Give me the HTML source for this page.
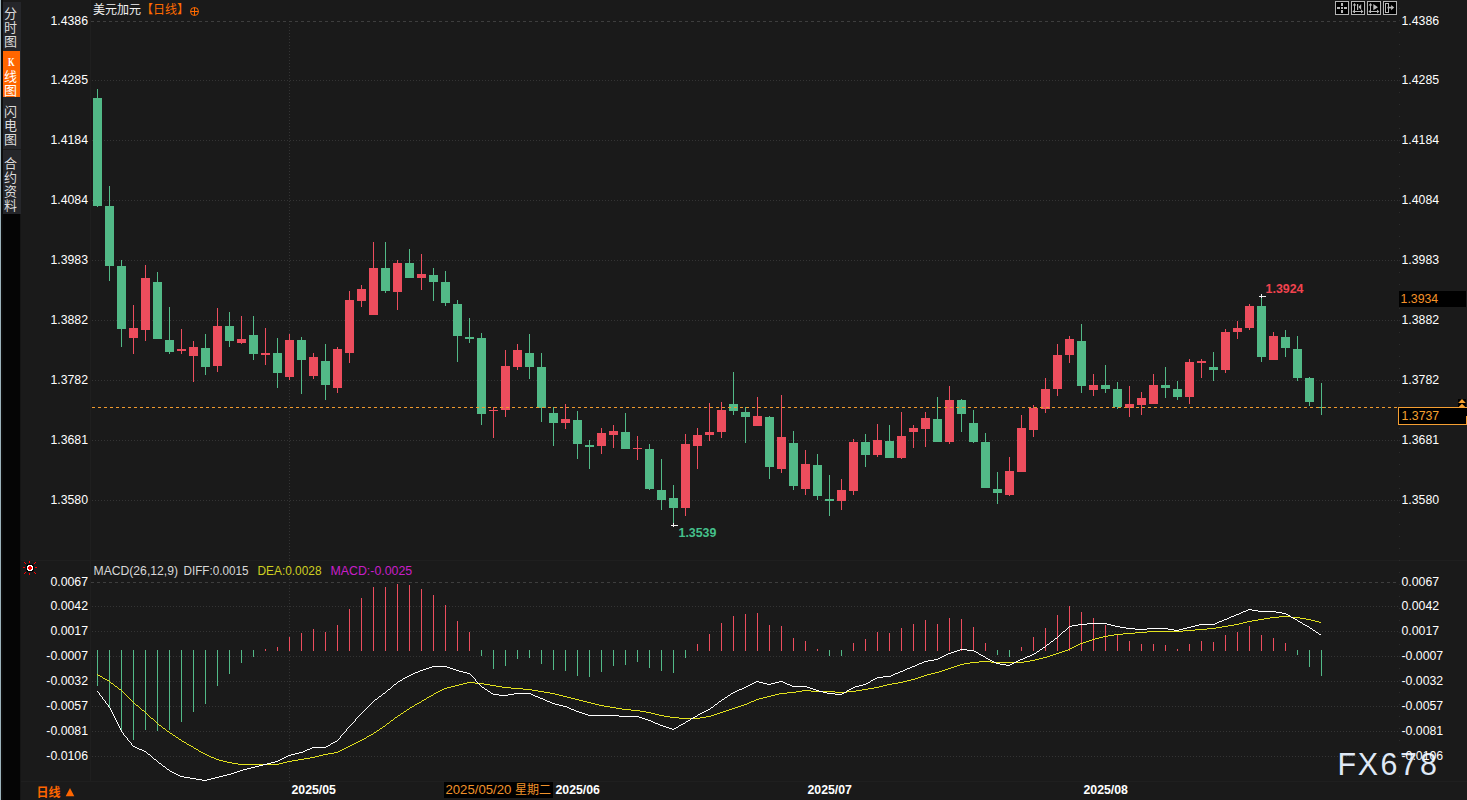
<!DOCTYPE html>
<html><head><meta charset="utf-8"><title>USDCAD</title>
<style>html,body{margin:0;padding:0;background:#1a1a1a;overflow:hidden}body{width:1467px;height:800px;position:relative;font-family:"Liberation Sans",sans-serif}</style>
</head><body>
<svg width="1467" height="800" viewBox="0 0 1467 800" style="position:absolute;left:0;top:0;display:block" font-family="'Liberation Sans', sans-serif">
<rect width="1467" height="800" fill="#1a1a1a"/>
<rect x="0" y="0" width="1" height="800" fill="#9db4bc"/>
<rect x="1" y="0" width="2" height="800" fill="#0c0c0c"/>
<rect x="3" y="214" width="17" height="586" fill="#050505"/><rect x="20" y="214" width="1" height="586" fill="#151515"/>
<rect x="3" y="2" width="18" height="212" fill="#25262a"/>
<rect x="3" y="51" width="17" height="46" fill="#ff6600"/>
<rect x="3" y="149" width="18" height="1" fill="#1a1a1a"/>
<g font-family="'Liberation Sans', 'Noto Sans CJK SC', sans-serif" font-size="13" text-anchor="middle">
<text x="10.5" y="18" fill="#dcdcdc">分</text>
<text x="10.5" y="32" fill="#dcdcdc">时</text>
<text x="10.5" y="46" fill="#dcdcdc">图</text>
<text x="10.5" y="81" fill="#ffffff">线</text>
<text x="10.5" y="95" fill="#ffffff">图</text>
<text x="10.5" y="116" fill="#dcdcdc">闪</text>
<text x="10.5" y="130" fill="#dcdcdc">电</text>
<text x="10.5" y="144" fill="#dcdcdc">图</text>
<text x="10.5" y="168" fill="#dcdcdc">合</text>
<text x="10.5" y="182" fill="#dcdcdc">约</text>
<text x="10.5" y="196" fill="#dcdcdc">资</text>
<text x="10.5" y="210" fill="#dcdcdc">料</text>
</g>
<text transform="translate(7.9,66) scale(0.74,1)" font-family="'Liberation Serif', serif" font-size="11.5" font-weight="bold" fill="#fff">K</text>
<g shape-rendering="crispEdges">
<rect x="90" y="0" width="1" height="781" fill="#1f1f1f"/>
<rect x="21" y="560" width="1446" height="1" fill="#1f1f1f"/>
<rect x="21" y="781" width="1446" height="1" fill="#1f1f1f"/>
<path d="M91 21.5H1399" stroke="#3e3e3e" stroke-width="1" stroke-dasharray="3 3" fill="none"/>
<path d="M92 80.5H1398" stroke="#343434" stroke-width="1" stroke-dasharray="1 2" fill="none"/>
<path d="M92 140.5H1398" stroke="#343434" stroke-width="1" stroke-dasharray="1 2" fill="none"/>
<path d="M92 200.5H1398" stroke="#343434" stroke-width="1" stroke-dasharray="1 2" fill="none"/>
<path d="M92 260.5H1398" stroke="#343434" stroke-width="1" stroke-dasharray="1 2" fill="none"/>
<path d="M92 320.5H1398" stroke="#343434" stroke-width="1" stroke-dasharray="1 2" fill="none"/>
<path d="M92 380.5H1398" stroke="#343434" stroke-width="1" stroke-dasharray="1 2" fill="none"/>
<path d="M92 440.5H1398" stroke="#343434" stroke-width="1" stroke-dasharray="1 2" fill="none"/>
<path d="M92 500.5H1398" stroke="#343434" stroke-width="1" stroke-dasharray="1 2" fill="none"/>
<path d="M91 582.5H1399" stroke="#3e3e3e" stroke-width="1" stroke-dasharray="3 3" fill="none"/>
<path d="M92 606.5H1398" stroke="#343434" stroke-width="1" stroke-dasharray="1 2" fill="none"/>
<path d="M92 631.5H1398" stroke="#343434" stroke-width="1" stroke-dasharray="1 2" fill="none"/>
<path d="M92 656.5H1398" stroke="#343434" stroke-width="1" stroke-dasharray="1 2" fill="none"/>
<path d="M92 681.5H1398" stroke="#343434" stroke-width="1" stroke-dasharray="1 2" fill="none"/>
<path d="M92 706.5H1398" stroke="#343434" stroke-width="1" stroke-dasharray="1 2" fill="none"/>
<path d="M92 731.5H1398" stroke="#343434" stroke-width="1" stroke-dasharray="1 2" fill="none"/>
<path d="M92 756.5H1398" stroke="#343434" stroke-width="1" stroke-dasharray="1 2" fill="none"/>
<path d="M289.5 24V781" stroke="#343434" stroke-width="1" stroke-dasharray="1 2" fill="none"/>
<path d="M1399.5 8V781" stroke="#2c2c2c" stroke-width="1" stroke-dasharray="1 11" fill="none"/>
<rect x="97" y="89" width="1" height="118" fill="#52b987"/>
<rect x="93" y="98" width="9" height="108" fill="#52b987"/>
<rect x="109" y="186" width="1" height="95" fill="#52b987"/>
<rect x="105" y="206" width="9" height="60" fill="#52b987"/>
<rect x="121" y="260" width="1" height="87" fill="#52b987"/>
<rect x="117" y="266" width="9" height="63" fill="#52b987"/>
<rect x="133" y="305" width="1" height="49" fill="#ec4d5d"/>
<rect x="129" y="328" width="9" height="10" fill="#ec4d5d"/>
<rect x="145" y="265" width="1" height="76" fill="#ec4d5d"/>
<rect x="141" y="278" width="9" height="52" fill="#ec4d5d"/>
<rect x="157" y="272" width="1" height="67" fill="#52b987"/>
<rect x="153" y="282" width="9" height="57" fill="#52b987"/>
<rect x="169" y="307" width="1" height="47" fill="#52b987"/>
<rect x="165" y="340" width="9" height="12" fill="#52b987"/>
<rect x="181" y="329" width="1" height="25" fill="#ec4d5d"/>
<rect x="177" y="349" width="9" height="2" fill="#ec4d5d"/>
<rect x="193" y="341" width="1" height="41" fill="#ec4d5d"/>
<rect x="189" y="347" width="9" height="9" fill="#ec4d5d"/>
<rect x="205" y="334" width="1" height="41" fill="#52b987"/>
<rect x="201" y="348" width="9" height="19" fill="#52b987"/>
<rect x="217" y="308" width="1" height="64" fill="#ec4d5d"/>
<rect x="213" y="326" width="9" height="40" fill="#ec4d5d"/>
<rect x="229" y="312" width="1" height="35" fill="#52b987"/>
<rect x="225" y="326" width="9" height="15" fill="#52b987"/>
<rect x="241" y="316" width="1" height="28" fill="#ec4d5d"/>
<rect x="237" y="339" width="9" height="4" fill="#ec4d5d"/>
<rect x="253" y="316" width="1" height="44" fill="#52b987"/>
<rect x="249" y="335" width="9" height="19" fill="#52b987"/>
<rect x="265" y="328" width="1" height="37" fill="#ec4d5d"/>
<rect x="261" y="353" width="9" height="2" fill="#ec4d5d"/>
<rect x="277" y="338" width="1" height="50" fill="#52b987"/>
<rect x="273" y="353" width="9" height="20" fill="#52b987"/>
<rect x="289" y="334" width="1" height="46" fill="#ec4d5d"/>
<rect x="285" y="340" width="9" height="37" fill="#ec4d5d"/>
<rect x="301" y="337" width="1" height="57" fill="#52b987"/>
<rect x="297" y="340" width="9" height="20" fill="#52b987"/>
<rect x="313" y="353" width="1" height="26" fill="#ec4d5d"/>
<rect x="309" y="357" width="9" height="19" fill="#ec4d5d"/>
<rect x="325" y="344" width="1" height="56" fill="#52b987"/>
<rect x="321" y="361" width="9" height="24" fill="#52b987"/>
<rect x="337" y="347" width="1" height="46" fill="#ec4d5d"/>
<rect x="333" y="349" width="9" height="39" fill="#ec4d5d"/>
<rect x="349" y="291" width="1" height="72" fill="#ec4d5d"/>
<rect x="345" y="300" width="9" height="53" fill="#ec4d5d"/>
<rect x="361" y="285" width="1" height="22" fill="#ec4d5d"/>
<rect x="357" y="289" width="9" height="12" fill="#ec4d5d"/>
<rect x="373" y="242" width="1" height="73" fill="#ec4d5d"/>
<rect x="369" y="268" width="9" height="47" fill="#ec4d5d"/>
<rect x="385" y="242" width="1" height="51" fill="#52b987"/>
<rect x="381" y="268" width="9" height="23" fill="#52b987"/>
<rect x="397" y="260" width="1" height="50" fill="#ec4d5d"/>
<rect x="393" y="263" width="9" height="29" fill="#ec4d5d"/>
<rect x="409" y="249" width="1" height="29" fill="#52b987"/>
<rect x="405" y="263" width="9" height="15" fill="#52b987"/>
<rect x="421" y="254" width="1" height="36" fill="#ec4d5d"/>
<rect x="417" y="274" width="9" height="4" fill="#ec4d5d"/>
<rect x="433" y="268" width="1" height="33" fill="#52b987"/>
<rect x="429" y="275" width="9" height="7" fill="#52b987"/>
<rect x="445" y="271" width="1" height="35" fill="#52b987"/>
<rect x="441" y="282" width="9" height="21" fill="#52b987"/>
<rect x="457" y="300" width="1" height="62" fill="#52b987"/>
<rect x="453" y="304" width="9" height="32" fill="#52b987"/>
<rect x="469" y="318" width="1" height="25" fill="#52b987"/>
<rect x="465" y="337" width="9" height="2" fill="#52b987"/>
<rect x="481" y="333" width="1" height="92" fill="#52b987"/>
<rect x="477" y="338" width="9" height="76" fill="#52b987"/>
<rect x="493" y="407" width="1" height="31" fill="#ec4d5d"/>
<rect x="489" y="410" width="9" height="1" fill="#ec4d5d"/>
<rect x="505" y="350" width="1" height="67" fill="#ec4d5d"/>
<rect x="501" y="366" width="9" height="44" fill="#ec4d5d"/>
<rect x="517" y="344" width="1" height="26" fill="#ec4d5d"/>
<rect x="513" y="350" width="9" height="17" fill="#ec4d5d"/>
<rect x="529" y="334" width="1" height="45" fill="#52b987"/>
<rect x="525" y="353" width="9" height="14" fill="#52b987"/>
<rect x="541" y="353" width="1" height="69" fill="#52b987"/>
<rect x="537" y="367" width="9" height="41" fill="#52b987"/>
<rect x="553" y="407" width="1" height="39" fill="#52b987"/>
<rect x="549" y="413" width="9" height="10" fill="#52b987"/>
<rect x="565" y="404" width="1" height="25" fill="#ec4d5d"/>
<rect x="561" y="419" width="9" height="4" fill="#ec4d5d"/>
<rect x="577" y="411" width="1" height="48" fill="#52b987"/>
<rect x="573" y="420" width="9" height="24" fill="#52b987"/>
<rect x="589" y="440" width="1" height="29" fill="#52b987"/>
<rect x="585" y="445" width="9" height="2" fill="#52b987"/>
<rect x="601" y="428" width="1" height="26" fill="#ec4d5d"/>
<rect x="597" y="433" width="9" height="13" fill="#ec4d5d"/>
<rect x="613" y="425" width="1" height="23" fill="#ec4d5d"/>
<rect x="609" y="431" width="9" height="4" fill="#ec4d5d"/>
<rect x="625" y="413" width="1" height="36" fill="#52b987"/>
<rect x="621" y="432" width="9" height="17" fill="#52b987"/>
<rect x="637" y="436" width="1" height="24" fill="#ec4d5d"/>
<rect x="633" y="448" width="9" height="1" fill="#ec4d5d"/>
<rect x="649" y="444" width="1" height="46" fill="#52b987"/>
<rect x="645" y="449" width="9" height="40" fill="#52b987"/>
<rect x="661" y="459" width="1" height="51" fill="#52b987"/>
<rect x="657" y="490" width="9" height="10" fill="#52b987"/>
<rect x="673" y="485" width="1" height="40" fill="#52b987"/>
<rect x="669" y="498" width="9" height="10" fill="#52b987"/>
<rect x="685" y="434" width="1" height="82" fill="#ec4d5d"/>
<rect x="681" y="444" width="9" height="64" fill="#ec4d5d"/>
<rect x="697" y="428" width="1" height="41" fill="#ec4d5d"/>
<rect x="693" y="435" width="9" height="11" fill="#ec4d5d"/>
<rect x="709" y="403" width="1" height="38" fill="#ec4d5d"/>
<rect x="705" y="432" width="9" height="3" fill="#ec4d5d"/>
<rect x="721" y="402" width="1" height="36" fill="#ec4d5d"/>
<rect x="717" y="410" width="9" height="22" fill="#ec4d5d"/>
<rect x="733" y="372" width="1" height="43" fill="#52b987"/>
<rect x="729" y="404" width="9" height="7" fill="#52b987"/>
<rect x="745" y="407" width="1" height="36" fill="#52b987"/>
<rect x="741" y="412" width="9" height="5" fill="#52b987"/>
<rect x="757" y="397" width="1" height="29" fill="#ec4d5d"/>
<rect x="753" y="416" width="9" height="10" fill="#ec4d5d"/>
<rect x="769" y="416" width="1" height="63" fill="#52b987"/>
<rect x="765" y="417" width="9" height="50" fill="#52b987"/>
<rect x="781" y="395" width="1" height="78" fill="#ec4d5d"/>
<rect x="777" y="437" width="9" height="32" fill="#ec4d5d"/>
<rect x="793" y="431" width="1" height="59" fill="#52b987"/>
<rect x="789" y="443" width="9" height="43" fill="#52b987"/>
<rect x="805" y="450" width="1" height="45" fill="#ec4d5d"/>
<rect x="801" y="464" width="9" height="25" fill="#ec4d5d"/>
<rect x="817" y="454" width="1" height="46" fill="#52b987"/>
<rect x="813" y="465" width="9" height="31" fill="#52b987"/>
<rect x="829" y="475" width="1" height="41" fill="#52b987"/>
<rect x="825" y="499" width="9" height="2" fill="#52b987"/>
<rect x="841" y="479" width="1" height="31" fill="#ec4d5d"/>
<rect x="837" y="490" width="9" height="11" fill="#ec4d5d"/>
<rect x="853" y="439" width="1" height="56" fill="#ec4d5d"/>
<rect x="849" y="442" width="9" height="49" fill="#ec4d5d"/>
<rect x="865" y="434" width="1" height="33" fill="#52b987"/>
<rect x="861" y="442" width="9" height="13" fill="#52b987"/>
<rect x="877" y="424" width="1" height="33" fill="#ec4d5d"/>
<rect x="873" y="440" width="9" height="15" fill="#ec4d5d"/>
<rect x="889" y="425" width="1" height="33" fill="#52b987"/>
<rect x="885" y="441" width="9" height="17" fill="#52b987"/>
<rect x="901" y="412" width="1" height="47" fill="#ec4d5d"/>
<rect x="897" y="436" width="9" height="22" fill="#ec4d5d"/>
<rect x="913" y="425" width="1" height="23" fill="#ec4d5d"/>
<rect x="909" y="428" width="9" height="4" fill="#ec4d5d"/>
<rect x="925" y="412" width="1" height="35" fill="#ec4d5d"/>
<rect x="921" y="418" width="9" height="11" fill="#ec4d5d"/>
<rect x="937" y="397" width="1" height="45" fill="#52b987"/>
<rect x="933" y="419" width="9" height="23" fill="#52b987"/>
<rect x="949" y="386" width="1" height="58" fill="#ec4d5d"/>
<rect x="945" y="400" width="9" height="42" fill="#ec4d5d"/>
<rect x="961" y="399" width="1" height="33" fill="#52b987"/>
<rect x="957" y="400" width="9" height="14" fill="#52b987"/>
<rect x="973" y="410" width="1" height="33" fill="#52b987"/>
<rect x="969" y="423" width="9" height="19" fill="#52b987"/>
<rect x="985" y="433" width="1" height="55" fill="#52b987"/>
<rect x="981" y="442" width="9" height="46" fill="#52b987"/>
<rect x="997" y="472" width="1" height="32" fill="#52b987"/>
<rect x="993" y="489" width="9" height="4" fill="#52b987"/>
<rect x="1009" y="457" width="1" height="39" fill="#ec4d5d"/>
<rect x="1005" y="471" width="9" height="24" fill="#ec4d5d"/>
<rect x="1021" y="415" width="1" height="57" fill="#ec4d5d"/>
<rect x="1017" y="428" width="9" height="44" fill="#ec4d5d"/>
<rect x="1033" y="405" width="1" height="32" fill="#ec4d5d"/>
<rect x="1029" y="408" width="9" height="22" fill="#ec4d5d"/>
<rect x="1045" y="378" width="1" height="35" fill="#ec4d5d"/>
<rect x="1041" y="389" width="9" height="20" fill="#ec4d5d"/>
<rect x="1057" y="344" width="1" height="52" fill="#ec4d5d"/>
<rect x="1053" y="355" width="9" height="34" fill="#ec4d5d"/>
<rect x="1069" y="336" width="1" height="27" fill="#ec4d5d"/>
<rect x="1065" y="339" width="9" height="16" fill="#ec4d5d"/>
<rect x="1081" y="324" width="1" height="69" fill="#52b987"/>
<rect x="1077" y="341" width="9" height="45" fill="#52b987"/>
<rect x="1093" y="374" width="1" height="22" fill="#ec4d5d"/>
<rect x="1089" y="385" width="9" height="5" fill="#ec4d5d"/>
<rect x="1105" y="365" width="1" height="28" fill="#52b987"/>
<rect x="1101" y="385" width="9" height="4" fill="#52b987"/>
<rect x="1117" y="382" width="1" height="27" fill="#52b987"/>
<rect x="1113" y="389" width="9" height="18" fill="#52b987"/>
<rect x="1129" y="386" width="1" height="31" fill="#ec4d5d"/>
<rect x="1125" y="404" width="9" height="4" fill="#ec4d5d"/>
<rect x="1141" y="392" width="1" height="23" fill="#ec4d5d"/>
<rect x="1137" y="398" width="9" height="7" fill="#ec4d5d"/>
<rect x="1153" y="374" width="1" height="30" fill="#ec4d5d"/>
<rect x="1149" y="385" width="9" height="19" fill="#ec4d5d"/>
<rect x="1165" y="367" width="1" height="31" fill="#52b987"/>
<rect x="1161" y="385" width="9" height="3" fill="#52b987"/>
<rect x="1177" y="381" width="1" height="19" fill="#52b987"/>
<rect x="1173" y="389" width="9" height="8" fill="#52b987"/>
<rect x="1189" y="359" width="1" height="45" fill="#ec4d5d"/>
<rect x="1185" y="362" width="9" height="35" fill="#ec4d5d"/>
<rect x="1201" y="359" width="1" height="19" fill="#ec4d5d"/>
<rect x="1197" y="361" width="9" height="2" fill="#ec4d5d"/>
<rect x="1213" y="352" width="1" height="29" fill="#52b987"/>
<rect x="1209" y="367" width="9" height="3" fill="#52b987"/>
<rect x="1225" y="329" width="1" height="44" fill="#ec4d5d"/>
<rect x="1221" y="332" width="9" height="38" fill="#ec4d5d"/>
<rect x="1237" y="321" width="1" height="18" fill="#ec4d5d"/>
<rect x="1233" y="328" width="9" height="4" fill="#ec4d5d"/>
<rect x="1249" y="304" width="1" height="26" fill="#ec4d5d"/>
<rect x="1245" y="306" width="9" height="22" fill="#ec4d5d"/>
<rect x="1261" y="297" width="1" height="65" fill="#52b987"/>
<rect x="1257" y="306" width="9" height="51" fill="#52b987"/>
<rect x="1273" y="332" width="1" height="28" fill="#ec4d5d"/>
<rect x="1269" y="336" width="9" height="24" fill="#ec4d5d"/>
<rect x="1285" y="330" width="1" height="27" fill="#52b987"/>
<rect x="1281" y="337" width="9" height="11" fill="#52b987"/>
<rect x="1297" y="336" width="1" height="45" fill="#52b987"/>
<rect x="1293" y="349" width="9" height="29" fill="#52b987"/>
<rect x="1309" y="377" width="1" height="29" fill="#52b987"/>
<rect x="1305" y="378" width="9" height="24" fill="#52b987"/>
<rect x="1321" y="383" width="1" height="32" fill="#52b987"/>
<rect x="1317" y="407" width="9" height="1" fill="#52b987"/>
<rect x="97" y="650" width="1" height="36" fill="#52b987"/>
<rect x="109" y="650" width="1" height="57" fill="#52b987"/>
<rect x="121" y="650" width="1" height="81" fill="#52b987"/>
<rect x="133" y="650" width="1" height="90" fill="#52b987"/>
<rect x="145" y="650" width="1" height="80" fill="#52b987"/>
<rect x="157" y="650" width="1" height="81" fill="#52b987"/>
<rect x="169" y="650" width="1" height="80" fill="#52b987"/>
<rect x="181" y="650" width="1" height="72" fill="#52b987"/>
<rect x="193" y="650" width="1" height="62" fill="#52b987"/>
<rect x="205" y="650" width="1" height="54" fill="#52b987"/>
<rect x="217" y="650" width="1" height="36" fill="#52b987"/>
<rect x="229" y="650" width="1" height="24" fill="#52b987"/>
<rect x="241" y="650" width="1" height="13" fill="#52b987"/>
<rect x="253" y="650" width="1" height="7" fill="#52b987"/>
<rect x="265" y="649" width="1" height="2" fill="#ec4d5d"/>
<rect x="277" y="647" width="1" height="4" fill="#ec4d5d"/>
<rect x="289" y="637" width="1" height="14" fill="#ec4d5d"/>
<rect x="301" y="633" width="1" height="18" fill="#ec4d5d"/>
<rect x="313" y="629" width="1" height="22" fill="#ec4d5d"/>
<rect x="325" y="632" width="1" height="19" fill="#ec4d5d"/>
<rect x="337" y="625" width="1" height="26" fill="#ec4d5d"/>
<rect x="349" y="609" width="1" height="42" fill="#ec4d5d"/>
<rect x="361" y="598" width="1" height="53" fill="#ec4d5d"/>
<rect x="373" y="587" width="1" height="64" fill="#ec4d5d"/>
<rect x="385" y="587" width="1" height="64" fill="#ec4d5d"/>
<rect x="397" y="584" width="1" height="67" fill="#ec4d5d"/>
<rect x="409" y="585" width="1" height="66" fill="#ec4d5d"/>
<rect x="421" y="589" width="1" height="62" fill="#ec4d5d"/>
<rect x="433" y="595" width="1" height="56" fill="#ec4d5d"/>
<rect x="445" y="605" width="1" height="46" fill="#ec4d5d"/>
<rect x="457" y="621" width="1" height="30" fill="#ec4d5d"/>
<rect x="469" y="632" width="1" height="19" fill="#ec4d5d"/>
<rect x="481" y="650" width="1" height="6" fill="#52b987"/>
<rect x="493" y="650" width="1" height="19" fill="#52b987"/>
<rect x="505" y="650" width="1" height="16" fill="#52b987"/>
<rect x="517" y="650" width="1" height="9" fill="#52b987"/>
<rect x="529" y="650" width="1" height="8" fill="#52b987"/>
<rect x="541" y="650" width="1" height="14" fill="#52b987"/>
<rect x="553" y="650" width="1" height="20" fill="#52b987"/>
<rect x="565" y="650" width="1" height="21" fill="#52b987"/>
<rect x="577" y="650" width="1" height="26" fill="#52b987"/>
<rect x="589" y="650" width="1" height="27" fill="#52b987"/>
<rect x="601" y="650" width="1" height="22" fill="#52b987"/>
<rect x="613" y="650" width="1" height="16" fill="#52b987"/>
<rect x="625" y="650" width="1" height="15" fill="#52b987"/>
<rect x="637" y="650" width="1" height="12" fill="#52b987"/>
<rect x="649" y="650" width="1" height="18" fill="#52b987"/>
<rect x="661" y="650" width="1" height="21" fill="#52b987"/>
<rect x="673" y="650" width="1" height="23" fill="#52b987"/>
<rect x="685" y="650" width="1" height="8" fill="#52b987"/>
<rect x="697" y="644" width="1" height="7" fill="#ec4d5d"/>
<rect x="709" y="634" width="1" height="17" fill="#ec4d5d"/>
<rect x="721" y="623" width="1" height="28" fill="#ec4d5d"/>
<rect x="733" y="616" width="1" height="35" fill="#ec4d5d"/>
<rect x="745" y="614" width="1" height="37" fill="#ec4d5d"/>
<rect x="757" y="613" width="1" height="38" fill="#ec4d5d"/>
<rect x="769" y="625" width="1" height="26" fill="#ec4d5d"/>
<rect x="781" y="626" width="1" height="25" fill="#ec4d5d"/>
<rect x="793" y="638" width="1" height="13" fill="#ec4d5d"/>
<rect x="805" y="641" width="1" height="10" fill="#ec4d5d"/>
<rect x="817" y="649" width="1" height="2" fill="#ec4d5d"/>
<rect x="829" y="650" width="1" height="6" fill="#52b987"/>
<rect x="841" y="650" width="1" height="6" fill="#52b987"/>
<rect x="853" y="643" width="1" height="8" fill="#ec4d5d"/>
<rect x="865" y="639" width="1" height="12" fill="#ec4d5d"/>
<rect x="877" y="632" width="1" height="19" fill="#ec4d5d"/>
<rect x="889" y="633" width="1" height="18" fill="#ec4d5d"/>
<rect x="901" y="628" width="1" height="23" fill="#ec4d5d"/>
<rect x="913" y="624" width="1" height="27" fill="#ec4d5d"/>
<rect x="925" y="620" width="1" height="31" fill="#ec4d5d"/>
<rect x="937" y="624" width="1" height="27" fill="#ec4d5d"/>
<rect x="949" y="618" width="1" height="33" fill="#ec4d5d"/>
<rect x="961" y="619" width="1" height="32" fill="#ec4d5d"/>
<rect x="973" y="627" width="1" height="24" fill="#ec4d5d"/>
<rect x="985" y="643" width="1" height="8" fill="#ec4d5d"/>
<rect x="997" y="650" width="1" height="5" fill="#52b987"/>
<rect x="1009" y="650" width="1" height="7" fill="#52b987"/>
<rect x="1021" y="647" width="1" height="4" fill="#ec4d5d"/>
<rect x="1033" y="637" width="1" height="14" fill="#ec4d5d"/>
<rect x="1045" y="628" width="1" height="23" fill="#ec4d5d"/>
<rect x="1057" y="615" width="1" height="36" fill="#ec4d5d"/>
<rect x="1069" y="606" width="1" height="45" fill="#ec4d5d"/>
<rect x="1081" y="612" width="1" height="39" fill="#ec4d5d"/>
<rect x="1093" y="618" width="1" height="33" fill="#ec4d5d"/>
<rect x="1105" y="625" width="1" height="26" fill="#ec4d5d"/>
<rect x="1117" y="634" width="1" height="17" fill="#ec4d5d"/>
<rect x="1129" y="641" width="1" height="10" fill="#ec4d5d"/>
<rect x="1141" y="644" width="1" height="7" fill="#ec4d5d"/>
<rect x="1153" y="644" width="1" height="7" fill="#ec4d5d"/>
<rect x="1165" y="645" width="1" height="6" fill="#ec4d5d"/>
<rect x="1177" y="649" width="1" height="2" fill="#ec4d5d"/>
<rect x="1189" y="644" width="1" height="7" fill="#ec4d5d"/>
<rect x="1201" y="641" width="1" height="10" fill="#ec4d5d"/>
<rect x="1213" y="642" width="1" height="9" fill="#ec4d5d"/>
<rect x="1225" y="635" width="1" height="16" fill="#ec4d5d"/>
<rect x="1237" y="632" width="1" height="19" fill="#ec4d5d"/>
<rect x="1249" y="626" width="1" height="25" fill="#ec4d5d"/>
<rect x="1261" y="635" width="1" height="16" fill="#ec4d5d"/>
<rect x="1273" y="638" width="1" height="13" fill="#ec4d5d"/>
<rect x="1285" y="643" width="1" height="8" fill="#ec4d5d"/>
<rect x="1297" y="650" width="1" height="5" fill="#52b987"/>
<rect x="1309" y="650" width="1" height="17" fill="#52b987"/>
<rect x="1321" y="650" width="1" height="26" fill="#52b987"/>
</g>
<path d="M92 407.5H1398" stroke="#f09a2e" stroke-width="1" stroke-dasharray="3 3" fill="none" shape-rendering="crispEdges"/>
<path d="M1279 616h12v1h-12zM1270 617h9v1h-9zM1291 617h9v1h-9zM1264 618h6v1h-6zM1300 618h6v1h-6zM1258 619h6v1h-6zM1306 619h5v1h-5zM1252 620h6v1h-6zM1311 620h4v1h-4zM1247 621h5v1h-5zM1315 621h4v1h-4zM1243 622h4v1h-4zM1319 622h2v1h-2zM1239 623h4v1h-4zM1234 624h5v1h-5zM1228 625h6v1h-6zM1222 626h6v1h-6zM1216 627h6v1h-6zM1207 628h9v1h-9zM1195 629h12v1h-12zM1183 630h12v1h-12zM1147 631h36v1h-36zM1135 632h12v1h-12zM1123 633h12v1h-12zM1114 634h9v1h-9zM1108 635h6v1h-6zM1103 636h5v1h-5zM1099 637h4v1h-4zM1095 638h4v1h-4zM1092 639h3v1h-3zM1089 640h3v1h-3zM1086 641h3v1h-3zM1083 642h3v1h-3zM1080 643h3v1h-3zM1078 644h2v1h-2zM1076 645h2v1h-2zM1074 646h2v1h-2zM1072 647h2v1h-2zM1070 648h2v1h-2zM1068 649h2v1h-2zM1065 650h3v1h-3zM1062 651h3v1h-3zM1059 652h3v1h-3zM1056 653h3v1h-3zM1053 654h3v1h-3zM1050 655h3v1h-3zM1047 656h3v1h-3zM1043 657h4v1h-4zM1039 658h4v1h-4zM1035 659h4v1h-4zM1030 660h5v1h-5zM979 661h12v1h-12zM1024 661h6v1h-6zM970 662h9v1h-9zM991 662h33v1h-33zM964 663h6v1h-6zM960 664h4v1h-4zM957 665h3v1h-3zM954 666h3v1h-3zM951 667h3v1h-3zM948 668h3v1h-3zM945 669h3v1h-3zM942 670h3v1h-3zM939 671h3v1h-3zM935 672h4v1h-4zM931 673h4v1h-4zM97 674h1v1h-1zM927 674h4v1h-4zM98 675h2v1h-2zM924 675h3v1h-3zM100 676h2v1h-2zM921 676h3v1h-3zM102 677h1v1h-1zM918 677h3v1h-3zM103 678h2v1h-2zM915 678h3v1h-3zM105 679h2v1h-2zM911 679h4v1h-4zM107 680h2v1h-2zM907 680h4v1h-4zM109 681h1v1h-1zM903 681h4v1h-4zM110 682h1v1h-1zM467 682h8v1h-8zM898 682h5v1h-5zM111 683h2v1h-2zM463 683h4v1h-4zM475 683h9v1h-9zM892 683h6v1h-6zM113 684h1v1h-1zM459 684h4v1h-4zM484 684h6v1h-6zM887 684h5v1h-5zM114 685h1v1h-1zM455 685h4v1h-4zM490 685h6v1h-6zM883 685h4v1h-4zM115 686h2v1h-2zM451 686h4v1h-4zM496 686h6v1h-6zM879 686h4v1h-4zM117 687h1v1h-1zM447 687h4v1h-4zM502 687h9v1h-9zM874 687h5v1h-5zM118 688h1v1h-1zM444 688h3v1h-3zM511 688h12v1h-12zM868 688h6v1h-6zM119 689h2v1h-2zM442 689h2v1h-2zM523 689h9v1h-9zM862 689h6v1h-6zM121 690h1v1h-1zM440 690h2v1h-2zM532 690h6v1h-6zM802 690h9v1h-9zM856 690h6v1h-6zM122 691h1v1h-1zM438 691h2v1h-2zM538 691h6v1h-6zM796 691h6v1h-6zM811 691h24v1h-24zM847 691h9v1h-9zM123 692h1v1h-1zM436 692h2v1h-2zM544 692h6v1h-6zM787 692h9v1h-9zM835 692h12v1h-12zM124 693h1v1h-1zM434 693h2v1h-2zM550 693h5v1h-5zM779 693h8v1h-8zM125 694h1v1h-1zM433 694h1v1h-1zM555 694h4v1h-4zM775 694h4v1h-4zM126 695h1v1h-1zM431 695h2v1h-2zM559 695h4v1h-4zM771 695h4v1h-4zM127 696h1v1h-1zM429 696h2v1h-2zM563 696h4v1h-4zM767 696h4v1h-4zM128 697h1v1h-1zM427 697h2v1h-2zM567 697h4v1h-4zM763 697h4v1h-4zM129 698h1v1h-1zM426 698h1v1h-1zM571 698h4v1h-4zM759 698h4v1h-4zM130 699h1v1h-1zM424 699h2v1h-2zM575 699h4v1h-4zM756 699h3v1h-3zM131 700h1v1h-1zM422 700h2v1h-2zM579 700h4v1h-4zM754 700h2v1h-2zM132 701h1v1h-1zM421 701h1v1h-1zM583 701h4v1h-4zM751 701h3v1h-3zM133 702h1v1h-1zM419 702h2v1h-2zM587 702h4v1h-4zM749 702h2v1h-2zM134 703h1v1h-1zM417 703h2v1h-2zM591 703h4v1h-4zM747 703h2v1h-2zM135 704h1v1h-1zM415 704h2v1h-2zM595 704h4v1h-4zM744 704h3v1h-3zM136 705h2v1h-2zM414 705h1v1h-1zM599 705h5v1h-5zM741 705h3v1h-3zM138 706h1v1h-1zM412 706h2v1h-2zM604 706h6v1h-6zM738 706h3v1h-3zM139 707h1v1h-1zM410 707h2v1h-2zM610 707h6v1h-6zM735 707h3v1h-3zM140 708h1v1h-1zM409 708h1v1h-1zM616 708h6v1h-6zM732 708h3v1h-3zM141 709h1v1h-1zM407 709h2v1h-2zM622 709h9v1h-9zM729 709h3v1h-3zM142 710h2v1h-2zM406 710h1v1h-1zM631 710h9v1h-9zM726 710h3v1h-3zM144 711h1v1h-1zM404 711h2v1h-2zM640 711h6v1h-6zM723 711h3v1h-3zM145 712h1v1h-1zM403 712h1v1h-1zM646 712h5v1h-5zM720 712h3v1h-3zM146 713h1v1h-1zM401 713h2v1h-2zM651 713h4v1h-4zM717 713h3v1h-3zM147 714h1v1h-1zM400 714h1v1h-1zM655 714h4v1h-4zM714 714h3v1h-3zM148 715h1v1h-1zM398 715h2v1h-2zM659 715h5v1h-5zM711 715h3v1h-3zM149 716h1v1h-1zM397 716h1v1h-1zM664 716h6v1h-6zM706 716h5v1h-5zM150 717h1v1h-1zM395 717h2v1h-2zM670 717h9v1h-9zM700 717h6v1h-6zM151 718h2v1h-2zM394 718h1v1h-1zM679 718h21v1h-21zM153 719h1v1h-1zM393 719h1v1h-1zM154 720h1v1h-1zM391 720h2v1h-2zM155 721h1v1h-1zM390 721h1v1h-1zM156 722h1v1h-1zM389 722h1v1h-1zM157 723h1v1h-1zM387 723h2v1h-2zM158 724h1v1h-1zM386 724h1v1h-1zM159 725h2v1h-2zM385 725h1v1h-1zM161 726h1v1h-1zM383 726h2v1h-2zM162 727h1v1h-1zM382 727h1v1h-1zM163 728h2v1h-2zM380 728h2v1h-2zM165 729h1v1h-1zM379 729h1v1h-1zM166 730h1v1h-1zM377 730h2v1h-2zM167 731h2v1h-2zM376 731h1v1h-1zM169 732h1v1h-1zM374 732h2v1h-2zM170 733h2v1h-2zM373 733h1v1h-1zM172 734h1v1h-1zM371 734h2v1h-2zM173 735h2v1h-2zM369 735h2v1h-2zM175 736h1v1h-1zM367 736h2v1h-2zM176 737h2v1h-2zM366 737h1v1h-1zM178 738h1v1h-1zM364 738h2v1h-2zM179 739h2v1h-2zM362 739h2v1h-2zM181 740h1v1h-1zM360 740h2v1h-2zM182 741h2v1h-2zM358 741h2v1h-2zM184 742h2v1h-2zM356 742h2v1h-2zM186 743h1v1h-1zM354 743h2v1h-2zM187 744h2v1h-2zM352 744h2v1h-2zM189 745h2v1h-2zM350 745h2v1h-2zM191 746h2v1h-2zM348 746h2v1h-2zM193 747h1v1h-1zM346 747h2v1h-2zM194 748h2v1h-2zM344 748h2v1h-2zM196 749h2v1h-2zM342 749h2v1h-2zM198 750h1v1h-1zM340 750h2v1h-2zM199 751h2v1h-2zM338 751h2v1h-2zM201 752h2v1h-2zM334 752h4v1h-4zM203 753h2v1h-2zM328 753h6v1h-6zM205 754h2v1h-2zM323 754h5v1h-5zM207 755h2v1h-2zM319 755h4v1h-4zM209 756h2v1h-2zM315 756h4v1h-4zM211 757h3v1h-3zM310 757h5v1h-5zM214 758h2v1h-2zM304 758h6v1h-6zM216 759h3v1h-3zM298 759h6v1h-6zM219 760h4v1h-4zM292 760h6v1h-6zM223 761h4v1h-4zM287 761h5v1h-5zM227 762h5v1h-5zM283 762h4v1h-4zM232 763h6v1h-6zM279 763h4v1h-4zM238 764h41v1h-41z" fill="#e2e21e" shape-rendering="crispEdges"/>
<path d="M1248 609h4v1h-4zM1246 610h2v1h-2zM1252 610h6v1h-6zM1243 611h3v1h-3zM1258 611h18v1h-18zM1241 612h2v1h-2zM1276 612h6v1h-6zM1239 613h2v1h-2zM1282 613h4v1h-4zM1236 614h3v1h-3zM1286 614h2v1h-2zM1234 615h2v1h-2zM1288 615h2v1h-2zM1231 616h3v1h-3zM1290 616h1v1h-1zM1229 617h2v1h-2zM1291 617h2v1h-2zM1227 618h2v1h-2zM1293 618h2v1h-2zM1224 619h3v1h-3zM1295 619h2v1h-2zM1222 620h2v1h-2zM1297 620h1v1h-1zM1219 621h3v1h-3zM1298 621h2v1h-2zM1217 622h2v1h-2zM1300 622h2v1h-2zM1087 623h20v1h-20zM1215 623h2v1h-2zM1302 623h1v1h-1zM1078 624h9v1h-9zM1107 624h4v1h-4zM1199 624h16v1h-16zM1303 624h2v1h-2zM1072 625h6v1h-6zM1111 625h4v1h-4zM1195 625h4v1h-4zM1305 625h2v1h-2zM1069 626h3v1h-3zM1115 626h5v1h-5zM1191 626h4v1h-4zM1307 626h2v1h-2zM1068 627h1v1h-1zM1120 627h6v1h-6zM1187 627h4v1h-4zM1309 627h1v1h-1zM1067 628h1v1h-1zM1126 628h9v1h-9zM1147 628h21v1h-21zM1183 628h4v1h-4zM1310 628h2v1h-2zM1066 629h1v1h-1zM1135 629h12v1h-12zM1168 629h6v1h-6zM1179 629h4v1h-4zM1312 629h1v1h-1zM1065 630h1v1h-1zM1174 630h5v1h-5zM1313 630h2v1h-2zM1063 631h2v1h-2zM1315 631h1v1h-1zM1062 632h1v1h-1zM1316 632h2v1h-2zM1061 633h1v1h-1zM1318 633h1v1h-1zM1060 634h1v1h-1zM1319 634h2v1h-2zM1059 635h1v1h-1zM1058 636h1v1h-1zM1057 637h1v1h-1zM1055 638h2v1h-2zM1054 639h1v1h-1zM1053 640h1v1h-1zM1051 641h2v1h-2zM1050 642h1v1h-1zM1049 643h1v1h-1zM1047 644h2v1h-2zM1046 645h1v1h-1zM1045 646h1v1h-1zM1043 647h2v1h-2zM1042 648h1v1h-1zM960 649h7v1h-7zM1040 649h2v1h-2zM957 650h3v1h-3zM967 650h7v1h-7zM1039 650h1v1h-1zM954 651h3v1h-3zM974 651h2v1h-2zM1037 651h2v1h-2zM951 652h3v1h-3zM976 652h2v1h-2zM1036 652h1v1h-1zM948 653h3v1h-3zM978 653h1v1h-1zM1034 653h2v1h-2zM946 654h2v1h-2zM979 654h2v1h-2zM1032 654h2v1h-2zM944 655h2v1h-2zM981 655h2v1h-2zM1030 655h2v1h-2zM942 656h2v1h-2zM983 656h2v1h-2zM1027 656h3v1h-3zM940 657h2v1h-2zM985 657h1v1h-1zM1025 657h2v1h-2zM938 658h2v1h-2zM986 658h2v1h-2zM1023 658h2v1h-2zM934 659h4v1h-4zM988 659h2v1h-2zM1020 659h3v1h-3zM928 660h6v1h-6zM990 660h2v1h-2zM1018 660h2v1h-2zM924 661h4v1h-4zM992 661h2v1h-2zM1016 661h2v1h-2zM922 662h2v1h-2zM994 662h2v1h-2zM1014 662h2v1h-2zM919 663h3v1h-3zM996 663h4v1h-4zM1012 663h2v1h-2zM917 664h2v1h-2zM1000 664h6v1h-6zM1010 664h2v1h-2zM915 665h2v1h-2zM1006 665h4v1h-4zM432 666h15v1h-15zM912 666h3v1h-3zM429 667h3v1h-3zM447 667h3v1h-3zM910 667h2v1h-2zM426 668h3v1h-3zM450 668h3v1h-3zM907 668h3v1h-3zM423 669h3v1h-3zM453 669h3v1h-3zM905 669h2v1h-2zM420 670h3v1h-3zM456 670h3v1h-3zM903 670h2v1h-2zM418 671h2v1h-2zM459 671h4v1h-4zM900 671h3v1h-3zM415 672h3v1h-3zM463 672h4v1h-4zM898 672h2v1h-2zM413 673h2v1h-2zM467 673h3v1h-3zM895 673h3v1h-3zM411 674h2v1h-2zM470 674h1v1h-1zM893 674h2v1h-2zM409 675h2v1h-2zM471 675h1v1h-1zM891 675h2v1h-2zM407 676h2v1h-2zM472 676h1v1h-1zM883 676h8v1h-8zM405 677h2v1h-2zM473 677h1v1h-1zM877 677h6v1h-6zM403 678h2v1h-2zM474 678h1v1h-1zM875 678h2v1h-2zM402 679h1v1h-1zM475 679h1v1h-1zM873 679h2v1h-2zM400 680h2v1h-2zM475 680h1v1h-1zM871 680h2v1h-2zM398 681h2v1h-2zM476 681h1v1h-1zM756 681h3v1h-3zM779 681h4v1h-4zM870 681h1v1h-1zM397 682h1v1h-1zM477 682h1v1h-1zM754 682h2v1h-2zM759 682h4v1h-4zM775 682h4v1h-4zM783 682h2v1h-2zM868 682h2v1h-2zM396 683h1v1h-1zM478 683h1v1h-1zM752 683h2v1h-2zM763 683h4v1h-4zM771 683h4v1h-4zM785 683h2v1h-2zM866 683h2v1h-2zM394 684h2v1h-2zM479 684h1v1h-1zM750 684h2v1h-2zM767 684h4v1h-4zM787 684h3v1h-3zM863 684h3v1h-3zM393 685h1v1h-1zM480 685h1v1h-1zM748 685h2v1h-2zM790 685h2v1h-2zM859 685h4v1h-4zM392 686h1v1h-1zM481 686h1v1h-1zM746 686h2v1h-2zM792 686h15v1h-15zM855 686h4v1h-4zM391 687h1v1h-1zM482 687h2v1h-2zM744 687h2v1h-2zM807 687h3v1h-3zM853 687h2v1h-2zM390 688h1v1h-1zM484 688h1v1h-1zM742 688h2v1h-2zM810 688h3v1h-3zM851 688h2v1h-2zM388 689h2v1h-2zM485 689h2v1h-2zM739 689h3v1h-3zM813 689h3v1h-3zM849 689h2v1h-2zM387 690h1v1h-1zM487 690h1v1h-1zM737 690h2v1h-2zM816 690h3v1h-3zM847 690h2v1h-2zM97 691h1v1h-1zM386 691h1v1h-1zM488 691h2v1h-2zM735 691h2v1h-2zM819 691h4v1h-4zM846 691h1v1h-1zM98 692h1v1h-1zM385 692h1v1h-1zM490 692h1v1h-1zM733 692h2v1h-2zM823 692h4v1h-4zM844 692h2v1h-2zM99 693h1v1h-1zM383 693h2v1h-2zM491 693h2v1h-2zM514 693h17v1h-17zM731 693h2v1h-2zM827 693h8v1h-8zM842 693h2v1h-2zM99 694h1v1h-1zM382 694h1v1h-1zM493 694h6v1h-6zM508 694h6v1h-6zM531 694h2v1h-2zM730 694h1v1h-1zM835 694h7v1h-7zM100 695h1v1h-1zM381 695h1v1h-1zM499 695h9v1h-9zM533 695h2v1h-2zM728 695h2v1h-2zM101 696h1v1h-1zM379 696h2v1h-2zM535 696h3v1h-3zM727 696h1v1h-1zM102 697h1v1h-1zM378 697h1v1h-1zM538 697h2v1h-2zM725 697h2v1h-2zM102 698h1v1h-1zM377 698h1v1h-1zM540 698h3v1h-3zM724 698h1v1h-1zM103 699h1v1h-1zM375 699h2v1h-2zM543 699h2v1h-2zM722 699h2v1h-2zM104 700h1v1h-1zM374 700h1v1h-1zM545 700h2v1h-2zM721 700h1v1h-1zM105 701h1v1h-1zM373 701h1v1h-1zM547 701h3v1h-3zM719 701h2v1h-2zM105 702h1v1h-1zM372 702h1v1h-1zM550 702h2v1h-2zM718 702h1v1h-1zM106 703h1v1h-1zM371 703h1v1h-1zM552 703h3v1h-3zM717 703h1v1h-1zM107 704h1v1h-1zM370 704h1v1h-1zM555 704h4v1h-4zM715 704h2v1h-2zM108 705h1v1h-1zM369 705h1v1h-1zM559 705h4v1h-4zM714 705h1v1h-1zM108 706h1v1h-1zM368 706h1v1h-1zM563 706h4v1h-4zM713 706h1v1h-1zM109 707h1v1h-1zM367 707h1v1h-1zM567 707h2v1h-2zM711 707h2v1h-2zM110 708h1v1h-1zM366 708h1v1h-1zM569 708h2v1h-2zM710 708h1v1h-1zM110 709h1v1h-1zM365 709h1v1h-1zM571 709h3v1h-3zM708 709h2v1h-2zM111 710h1v1h-1zM364 710h1v1h-1zM574 710h2v1h-2zM706 710h2v1h-2zM111 711h1v1h-1zM363 711h1v1h-1zM576 711h3v1h-3zM704 711h2v1h-2zM112 712h1v1h-1zM362 712h1v1h-1zM579 712h3v1h-3zM702 712h2v1h-2zM112 713h1v1h-1zM361 713h1v1h-1zM582 713h3v1h-3zM700 713h2v1h-2zM113 714h1v1h-1zM360 714h1v1h-1zM585 714h3v1h-3zM698 714h2v1h-2zM113 715h1v1h-1zM359 715h1v1h-1zM588 715h31v1h-31zM697 715h1v1h-1zM114 716h1v1h-1zM358 716h1v1h-1zM619 716h20v1h-20zM695 716h2v1h-2zM114 717h1v1h-1zM357 717h1v1h-1zM639 717h3v1h-3zM693 717h2v1h-2zM115 718h1v1h-1zM356 718h1v1h-1zM642 718h3v1h-3zM691 718h2v1h-2zM115 719h1v1h-1zM355 719h1v1h-1zM645 719h3v1h-3zM690 719h1v1h-1zM116 720h1v1h-1zM355 720h1v1h-1zM648 720h3v1h-3zM688 720h2v1h-2zM116 721h1v1h-1zM354 721h1v1h-1zM651 721h2v1h-2zM686 721h2v1h-2zM117 722h1v1h-1zM353 722h1v1h-1zM653 722h2v1h-2zM685 722h1v1h-1zM117 723h1v1h-1zM352 723h1v1h-1zM655 723h3v1h-3zM683 723h2v1h-2zM118 724h1v1h-1zM351 724h1v1h-1zM658 724h2v1h-2zM681 724h2v1h-2zM118 725h1v1h-1zM350 725h1v1h-1zM660 725h3v1h-3zM679 725h2v1h-2zM119 726h1v1h-1zM349 726h1v1h-1zM663 726h3v1h-3zM678 726h1v1h-1zM119 727h1v1h-1zM348 727h1v1h-1zM666 727h3v1h-3zM676 727h2v1h-2zM120 728h1v1h-1zM347 728h1v1h-1zM669 728h3v1h-3zM674 728h2v1h-2zM120 729h1v1h-1zM346 729h1v1h-1zM672 729h2v1h-2zM121 730h1v1h-1zM346 730h1v1h-1zM121 731h1v1h-1zM345 731h1v1h-1zM122 732h1v1h-1zM344 732h1v1h-1zM123 733h1v1h-1zM343 733h1v1h-1zM123 734h1v1h-1zM342 734h1v1h-1zM124 735h1v1h-1zM341 735h1v1h-1zM125 736h1v1h-1zM340 736h1v1h-1zM126 737h1v1h-1zM340 737h1v1h-1zM127 738h1v1h-1zM339 738h1v1h-1zM127 739h1v1h-1zM338 739h1v1h-1zM128 740h1v1h-1zM337 740h1v1h-1zM129 741h1v1h-1zM335 741h2v1h-2zM130 742h1v1h-1zM333 742h2v1h-2zM131 743h1v1h-1zM331 743h2v1h-2zM131 744h1v1h-1zM330 744h1v1h-1zM132 745h1v1h-1zM328 745h2v1h-2zM133 746h2v1h-2zM326 746h2v1h-2zM135 747h2v1h-2zM312 747h14v1h-14zM137 748h2v1h-2zM310 748h2v1h-2zM139 749h3v1h-3zM307 749h3v1h-3zM142 750h2v1h-2zM305 750h2v1h-2zM144 751h2v1h-2zM303 751h2v1h-2zM146 752h1v1h-1zM299 752h4v1h-4zM147 753h1v1h-1zM295 753h4v1h-4zM148 754h2v1h-2zM291 754h4v1h-4zM150 755h1v1h-1zM288 755h3v1h-3zM151 756h1v1h-1zM286 756h2v1h-2zM152 757h1v1h-1zM284 757h2v1h-2zM153 758h1v1h-1zM282 758h2v1h-2zM154 759h2v1h-2zM280 759h2v1h-2zM156 760h1v1h-1zM278 760h2v1h-2zM157 761h1v1h-1zM275 761h3v1h-3zM158 762h1v1h-1zM271 762h4v1h-4zM159 763h2v1h-2zM267 763h4v1h-4zM161 764h1v1h-1zM263 764h4v1h-4zM162 765h1v1h-1zM259 765h4v1h-4zM163 766h2v1h-2zM255 766h4v1h-4zM165 767h1v1h-1zM251 767h4v1h-4zM166 768h1v1h-1zM247 768h4v1h-4zM167 769h2v1h-2zM243 769h4v1h-4zM169 770h1v1h-1zM240 770h3v1h-3zM170 771h2v1h-2zM237 771h3v1h-3zM172 772h2v1h-2zM234 772h3v1h-3zM174 773h2v1h-2zM231 773h3v1h-3zM176 774h2v1h-2zM227 774h4v1h-4zM178 775h2v1h-2zM223 775h4v1h-4zM180 776h4v1h-4zM219 776h4v1h-4zM184 777h6v1h-6zM215 777h4v1h-4zM190 778h6v1h-6zM211 778h4v1h-4zM196 779h6v1h-6zM207 779h4v1h-4zM202 780h5v1h-5z" fill="#ffffff" shape-rendering="crispEdges"/>
<text transform="scale(0.95,1.0)" x="1407.91 1429.17 1453.22 1473.62 1494.82" y="775.50" font-size="32" fill="#dfe8f6">FX678</text>
<text x="88" y="25" font-size="12.3" fill="#ffffff" font-weight="normal" text-anchor="end" >1.4386</text>
<text x="1401.5" y="25" font-size="12.3" fill="#ffffff" font-weight="normal" text-anchor="start" >1.4386</text>
<text x="88" y="84" font-size="12.3" fill="#ffffff" font-weight="normal" text-anchor="end" >1.4285</text>
<text x="1401.5" y="84" font-size="12.3" fill="#ffffff" font-weight="normal" text-anchor="start" >1.4285</text>
<text x="88" y="144" font-size="12.3" fill="#ffffff" font-weight="normal" text-anchor="end" >1.4184</text>
<text x="1401.5" y="144" font-size="12.3" fill="#ffffff" font-weight="normal" text-anchor="start" >1.4184</text>
<text x="88" y="204" font-size="12.3" fill="#ffffff" font-weight="normal" text-anchor="end" >1.4084</text>
<text x="1401.5" y="204" font-size="12.3" fill="#ffffff" font-weight="normal" text-anchor="start" >1.4084</text>
<text x="88" y="264" font-size="12.3" fill="#ffffff" font-weight="normal" text-anchor="end" >1.3983</text>
<text x="1401.5" y="264" font-size="12.3" fill="#ffffff" font-weight="normal" text-anchor="start" >1.3983</text>
<text x="88" y="324" font-size="12.3" fill="#ffffff" font-weight="normal" text-anchor="end" >1.3882</text>
<text x="1401.5" y="324" font-size="12.3" fill="#ffffff" font-weight="normal" text-anchor="start" >1.3882</text>
<text x="88" y="384" font-size="12.3" fill="#ffffff" font-weight="normal" text-anchor="end" >1.3782</text>
<text x="1401.5" y="384" font-size="12.3" fill="#ffffff" font-weight="normal" text-anchor="start" >1.3782</text>
<text x="88" y="444" font-size="12.3" fill="#ffffff" font-weight="normal" text-anchor="end" >1.3681</text>
<text x="1401.5" y="444" font-size="12.3" fill="#ffffff" font-weight="normal" text-anchor="start" >1.3681</text>
<text x="88" y="504" font-size="12.3" fill="#ffffff" font-weight="normal" text-anchor="end" >1.3580</text>
<text x="1401.5" y="504" font-size="12.3" fill="#ffffff" font-weight="normal" text-anchor="start" >1.3580</text>
<text x="88" y="585.75" font-size="12.3" fill="#ffffff" font-weight="normal" text-anchor="end" >0.0067</text>
<text x="1401.5" y="585.75" font-size="12.3" fill="#ffffff" font-weight="normal" text-anchor="start" >0.0067</text>
<text x="88" y="609.75" font-size="12.3" fill="#ffffff" font-weight="normal" text-anchor="end" >0.0042</text>
<text x="1401.5" y="609.75" font-size="12.3" fill="#ffffff" font-weight="normal" text-anchor="start" >0.0042</text>
<text x="88" y="634.75" font-size="12.3" fill="#ffffff" font-weight="normal" text-anchor="end" >0.0017</text>
<text x="1401.5" y="634.75" font-size="12.3" fill="#ffffff" font-weight="normal" text-anchor="start" >0.0017</text>
<text x="88" y="659.75" font-size="12.3" fill="#ffffff" font-weight="normal" text-anchor="end" >-0.0007</text>
<text x="1401.5" y="659.75" font-size="12.3" fill="#ffffff" font-weight="normal" text-anchor="start" >-0.0007</text>
<text x="88" y="684.75" font-size="12.3" fill="#ffffff" font-weight="normal" text-anchor="end" >-0.0032</text>
<text x="1401.5" y="684.75" font-size="12.3" fill="#ffffff" font-weight="normal" text-anchor="start" >-0.0032</text>
<text x="88" y="709.75" font-size="12.3" fill="#ffffff" font-weight="normal" text-anchor="end" >-0.0057</text>
<text x="1401.5" y="709.75" font-size="12.3" fill="#ffffff" font-weight="normal" text-anchor="start" >-0.0057</text>
<text x="88" y="734.75" font-size="12.3" fill="#ffffff" font-weight="normal" text-anchor="end" >-0.0081</text>
<text x="1401.5" y="734.75" font-size="12.3" fill="#ffffff" font-weight="normal" text-anchor="start" >-0.0081</text>
<text x="88" y="759.75" font-size="12.3" fill="#ffffff" font-weight="normal" text-anchor="end" >-0.0106</text>
<text x="1401.5" y="759.75" font-size="12.3" fill="#ffffff" font-weight="normal" text-anchor="start" >-0.0106</text>
<rect x="1399" y="291" width="67" height="16" fill="#000"/>
<text x="1400.6" y="303" font-size="12.3" fill="#f5922a" font-weight="normal" text-anchor="start" >1.3934</text>
<g shape-rendering="crispEdges"><rect x="1398" y="407" width="69" height="18" fill="#000"/><g fill="#f59f32"><rect x="1398" y="407" width="69" height="1"/><rect x="1398" y="424" width="69" height="1"/><rect x="1398" y="407" width="1" height="18"/><rect x="1466" y="416" width="1" height="9"/></g></g>
<text x="1401.6" y="420" font-size="12.3" fill="#f5a030" font-weight="normal" text-anchor="start" >1.3737</text>
<rect x="1458" y="399" width="8" height="8" fill="#000"/>
<path d="M1458.2 403L1462 399L1465.8 403Z M1458.2 407.5L1462 403.7L1465.8 407.5Z" fill="#f5a030"/>
<g shape-rendering="crispEdges" fill="#f4f4f4"><rect x="1259" y="296" width="7" height="1"/><rect x="1261" y="294" width="1" height="4"/><rect x="671" y="525" width="7" height="1"/><rect x="673" y="523" width="1" height="4"/></g>
<text x="1265.6" y="293.2" font-size="12.4" fill="#f2434f" font-weight="bold" text-anchor="start" >1.3924</text>
<text x="678.5" y="537.2" font-size="12.4" fill="#45c08b" font-weight="bold" text-anchor="start" >1.3539</text>
<text x="93" y="14.4" font-size="12" fill="#f2f2f2" text-anchor="start" font-family="'Liberation Sans', 'Noto Sans CJK SC', sans-serif">美元加元</text>
<text x="141" y="14.4" font-size="12" fill="#ff6a00" text-anchor="start" font-family="'Liberation Sans', 'Noto Sans CJK SC', sans-serif">【日线】</text>
<g stroke="#ff6a00" stroke-width="1" fill="none"><circle cx="194.5" cy="11.5" r="4"/><path d="M190.5 11.5H198.5M194.5 7.5V15.5"/></g>
<text x="93.5" y="575" font-size="12" fill="#d8d8d8" font-weight="normal" text-anchor="start" textLength="84.5" lengthAdjust="spacingAndGlyphs">MACD(26,12,9)</text>
<text x="183.5" y="575" font-size="12" fill="#d8d8d8" font-weight="normal" text-anchor="start" textLength="65" lengthAdjust="spacingAndGlyphs">DIFF:0.0015</text>
<text x="257.5" y="575" font-size="12" fill="#cfcf22" font-weight="normal" text-anchor="start" textLength="64" lengthAdjust="spacingAndGlyphs">DEA:0.0028</text>
<text x="330.5" y="575" font-size="12" fill="#c81ec8" font-weight="normal" text-anchor="start" textLength="81.7" lengthAdjust="spacingAndGlyphs">MACD:-0.0025</text>
<g shape-rendering="crispEdges"><path d="M27 564H33V565H34V571H33V572H27V571H26V565H27Z" fill="#000"/><path d="M28 565H32V566H33V570H32V571H28V570H27V566H28Z" fill="#fff"/><path d="M29 566H31V567H32V569H31V570H29V569H28V567H29Z" fill="#ff0000"/><g fill="#ff0000"><rect x="29" y="561" width="1" height="2"/><rect x="29" y="573" width="1" height="2"/><rect x="23" y="567" width="2" height="1"/><rect x="35" y="567" width="2" height="1"/><rect x="24" y="562" width="1" height="1"/><rect x="25" y="563" width="1" height="1"/><rect x="35" y="562" width="1" height="1"/><rect x="34" y="563" width="1" height="1"/><rect x="25" y="572" width="1" height="1"/><rect x="24" y="573" width="1" height="1"/><rect x="34" y="572" width="1" height="1"/><rect x="35" y="573" width="1" height="1"/></g></g>
<text x="36.5" y="797" font-size="12" font-weight="bold" fill="#ff6600" text-anchor="start" font-family="'Liberation Sans', 'Noto Sans CJK SC', sans-serif">日线</text>
<path d="M65.7 796.2L70 788L74.3 796.2Z" fill="#ff6600"/>
<text x="291.5" y="794.1" font-size="12.3" fill="#ffffff" font-weight="bold" text-anchor="start" >2025/05</text>
<text x="555.5" y="794.1" font-size="12.3" fill="#ffffff" font-weight="bold" text-anchor="start" >2025/06</text>
<text x="807.5" y="794.1" font-size="12.3" fill="#ffffff" font-weight="bold" text-anchor="start" >2025/07</text>
<text x="1083.5" y="794.1" font-size="12.3" fill="#ffffff" font-weight="bold" text-anchor="start" >2025/08</text>
<rect x="444" y="782" width="109" height="16" fill="#000"/>
<text x="445.4" y="794.4" font-size="13.1" fill="#f0922b" font-weight="normal" text-anchor="start" textLength="66" lengthAdjust="spacingAndGlyphs">2025/05/20</text>
<text x="515" y="794.4" font-size="12" fill="#f0922b" text-anchor="start" font-family="'Liberation Sans', 'Noto Sans CJK SC', sans-serif">星期二</text>
<g shape-rendering="crispEdges">
<rect x="1335.5" y="1.5" width="13" height="13" fill="#000" stroke="#b4b4b4" stroke-width="1"/>
<rect x="1351.5" y="1.5" width="13" height="13" fill="#000" stroke="#b4b4b4" stroke-width="1"/>
<rect x="1367.5" y="1.5" width="13" height="13" fill="#000" stroke="#b4b4b4" stroke-width="1"/>
<rect x="1383.5" y="1.5" width="13" height="13" fill="#000" stroke="#b4b4b4" stroke-width="1"/>
<g fill="#b9b9b9"><rect x="1337" y="7" width="3" height="2"/><rect x="1341" y="7" width="2" height="2"/><rect x="1344" y="7" width="3" height="2"/><rect x="1341" y="3" width="2" height="3"/><rect x="1341" y="10" width="2" height="3"/></g>
</g>
<g fill="#b9b9b9" stroke="none"><rect x="1354" y="4" width="1" height="9"/><path d="M1352.6 5.4L1354.5 3L1356.4 5.4Z"/><rect x="1353" y="11" width="10" height="1"/><path d="M1361 9.6L1363.4 11.5L1361 13.4Z"/><path d="M1354.4 9.8L1352.4 11.5L1354.4 13.2Z"/><rect x="1357" y="4" width="1.2" height="6"/><path d="M1358.5 7L1361.2 4V10Z"/></g>
<g fill="#b9b9b9" stroke="none"><rect x="1370" y="4" width="1" height="9"/><path d="M1368.6 5.4L1370.5 3L1372.4 5.4Z"/><rect x="1369" y="11" width="10" height="1"/><path d="M1377 9.6L1379.4 11.5L1377 13.4Z"/><path d="M1370.4 9.8L1368.4 11.5L1370.4 13.2Z"/><path d="M1373.3 4L1378 7.2L1373.3 10.3Z"/></g>
<g><rect x="1385.5" y="3.5" width="3" height="9" fill="none" stroke="#b9b9b9" stroke-width="1" shape-rendering="crispEdges"/><rect x="1387.5" y="6.8" width="4.5" height="1.6" fill="#b9b9b9"/><path d="M1391.2 5L1394.2 7.6L1391.2 10.2Z" fill="#b9b9b9"/></g>
</svg>
</body></html>
